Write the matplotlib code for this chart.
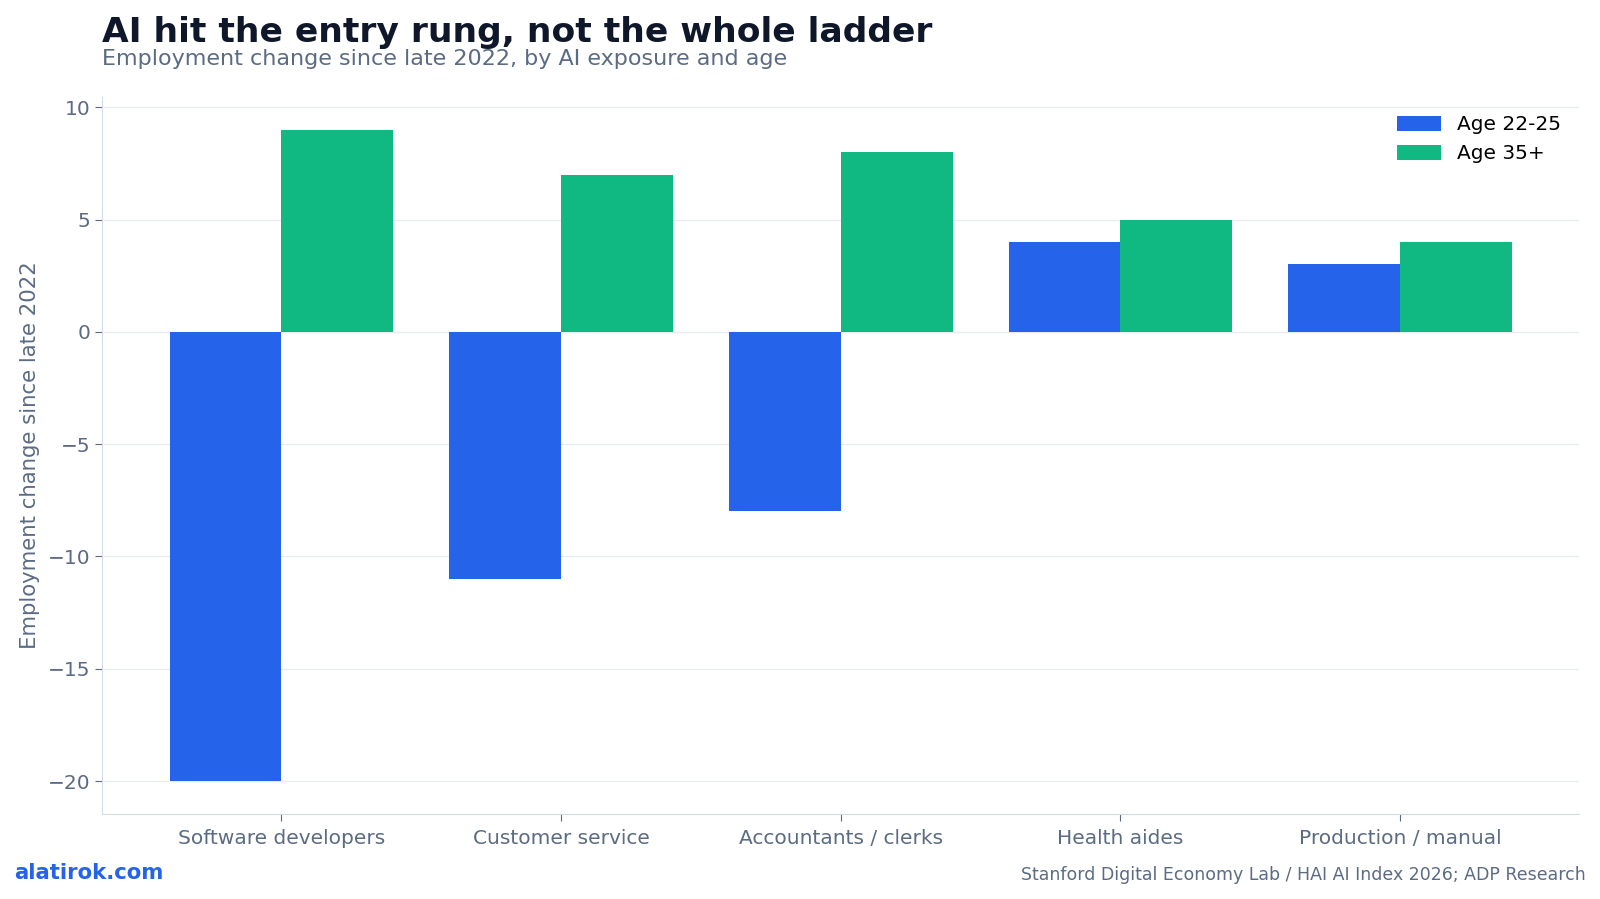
import numpy as np
import matplotlib.pyplot as plt

categories = ["Software developers", "Customer service", "Accountants / clerks",
              "Health aides", "Production / manual"]
young = [-20, -11, -8, 4, 3]
older = [9, 7, 8, 5, 4]
series_names = ["Age 22-25", "Age 35+"]

blue = "#2563eb"
green = "#10b981"
slate = "#5b6b84"
grid_col = "#e8ecf2"

fig = plt.figure(figsize=(16, 8.99), dpi=100)
ax = fig.add_axes([0.064, 0.095, 0.923, 0.797])

x = np.arange(len(categories))
w = 0.4
ax.bar(x - w / 2, young, w, color=blue, label=series_names[0], zorder=3)
ax.bar(x + w / 2, older, w, color=green, label=series_names[1], zorder=3)

ax.set_xticks(x)
ax.set_xticklabels(categories)
ax.set_yticks([-20, -15, -10, -5, 0, 5, 10])
ax.yaxis.grid(True, color=grid_col, linewidth=1, zorder=0)
ax.set_axisbelow(True)
for s in ["top", "right"]:
    ax.spines[s].set_visible(False)
for s in ["left", "bottom"]:
    ax.spines[s].set_color("#d5dbe5")
ax.tick_params(colors=slate, labelsize=14.5, length=5)
ax.tick_params(axis="x", pad=6)
ax.set_ylabel("Employment change since late 2022", color=slate, fontsize=15.3,
              labelpad=6)

leg = ax.legend(frameon=False, fontsize=14.5, loc="upper right",
                handlelength=2.2, handleheight=0.8)

fig.text(0.064, 0.964, "AI hit the entry rung, not the whole ladder",
         fontsize=24.8, fontweight="bold", color="#0f172a", va="center")
fig.text(0.064, 0.934, "Employment change since late 2022, by AI exposure and age",
         fontsize=16, color=slate, va="center")
fig.text(0.009, 0.029, "alatirok.com", fontsize=15.3, fontweight="bold",
         color=blue, va="center")
fig.text(0.991, 0.027, "Stanford Digital Economy Lab / HAI AI Index 2026; ADP Research",
         fontsize=12.5, color=slate, va="center", ha="right")

fig.savefig("out.png", dpi=100)
